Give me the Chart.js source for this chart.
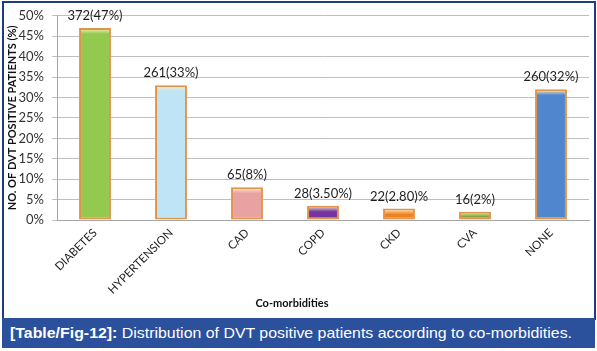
<!DOCTYPE html>
<html>
<head>
<meta charset="utf-8">
<script src="https://cdn.jsdelivr.net/npm/chart.js@4.4.1/dist/chart.umd.min.js"></script>
<style>
  html, body { margin: 0; padding: 0; background: #ffffff; }
  body { width: 597px; height: 351px; position: relative; overflow: hidden; }
  #wrap { position: absolute; left: 0; top: 0; width: 597px; height: 318px; }
  #frame { position: absolute; left: 2px; top: 1px; width: 590px; height: 315px;
           border: 2px solid #1f3d7c; pointer-events: none; }
  #caption { position: absolute; left: 2px; top: 318px; width: 593px; height: 30px;
             background: #2b509c; color: #ffffff; font-family: "Liberation Sans", Arial, sans-serif;
             font-size: 14.5px; line-height: 30px; white-space: nowrap; overflow: hidden; }
  #captext { display: inline-block; transform-origin: 0 50%; position: absolute; left: 8px; top: 0; }
  #captext b { font-weight: bold; }
</style>
</head>
<body>
<div id="wrap"><canvas id="c" width="597" height="318"></canvas></div>
<div id="frame"></div>
<div id="caption"><span id="captext"><b>[Table/Fig-12]:</b> Distribution of DVT positive patients according to co-morbidities.</span></div>
<script>
const categories = ["DIABETES", "HYPERTENSION", "CAD", "COPD", "CKD", "CVA", "NONE"];
const percentValues = [47, 33, 8, 3.5, 2.8, 2, 32];
const dataLabels = ["372(47%)", "261(33%)", "65(8%)", "28(3.50%)", "22(2.80)%", "16(2%)", "260(32%)"];
const yTickLabels = ["0%", "5%", "10%", "15%", "20%", "25%", "30%", "35%", "40%", "45%", "50%"];
const barColors = ["#92c94e", "#bfe4f6", "#e8a2a2", "#7435a3", "#f0801e", "#7aa53b", "#4f86cd"];
const yTitle = "NO. OF DVT POSITIVE PATIENTS (%)";
const xTitle = "Co-morbidities";

// caption fit
(function(){
  const t = document.getElementById('captext');
  const w = t.getBoundingClientRect().width;
  t.style.transform = 'scaleX(' + (562 / w) + ')';
})();

function barFill(ctx) {
  const chart = ctx.chart;
  const i = ctx.dataIndex;
  const base = barColors[i];
  if (!chart.scales || !chart.scales.y || i === undefined) return base;
  const y = chart.scales.y;
  const top = y.getPixelForValue(percentValues[i]);
  const bottom = y.getPixelForValue(0);
  if (!isFinite(top) || !isFinite(bottom) || bottom - top < 1) return base;
  const g = chart.ctx.createLinearGradient(0, top, 0, bottom);
  const h = Math.min(0.6, 6 / (bottom - top));
  g.addColorStop(0, '#fdf0c0');
  g.addColorStop(h, base);
  g.addColorStop(1, base);
  return g;
}

const labelPlugin = {
  id: 'labels',
  afterDatasetsDraw(chart) {
    const ctx = chart.ctx;
    const meta = chart.getDatasetMeta(0);
    ctx.save();
    ctx.font = '13px Lato, "Open Sans", sans-serif';
    ctx.fillStyle = '#1e1e1e';
    ctx.textAlign = 'center';
    ctx.textBaseline = 'alphabetic';
    meta.data.forEach((bar, i) => {
      ctx.fillText(dataLabels[i], bar.x, bar.y - 8);
    });
    ctx.font = 'bold 11px Lato, "Open Sans", sans-serif';
    ctx.fillStyle = '#111111';
    ctx.textBaseline = 'middle';
    ctx.fillText(xTitle, 292, 303);
    ctx.restore();
  }
};

new Chart(document.getElementById('c'), {
  type: 'bar',
  data: {
    labels: categories,
    datasets: [{
      data: percentValues,
      backgroundColor: barFill,
      borderColor: '#e2934a',
      borderWidth: 2,
      borderSkipped: false,
      barPercentage: 0.42,
      categoryPercentage: 1.0
    }]
  },
  options: {
    responsive: false,
    animation: false,
    devicePixelRatio: 1,
    layout: { padding: { left: 4, right: 8, top: 10, bottom: 0 } },
    plugins: { legend: { display: false }, tooltip: { enabled: false } },
    scales: {
      x: {
        offset: true,
        grid: { display: false, drawTicks: false },
        border: { display: true, color: '#a6a6a6', width: 1 },
        ticks: {
          autoSkip: false, minRotation: 45, maxRotation: 45, padding: 6,
          color: '#1e1e1e',
          font: { family: 'Lato, "Open Sans", sans-serif', size: 11.5 }
        },
        afterFit(scale) { scale.height = 98; }
      },
      y: {
        min: 0, max: 50,
        ticks: {
          stepSize: 5, padding: 8, color: '#333333',
          font: { family: 'Lato, "Open Sans", sans-serif', size: 13 },
          callback: (v, idx) => yTickLabels[idx]
        },
        grid: { color: '#bfbfbf', lineWidth: 1, tickLength: 5, drawTicks: true },
        border: { display: true, color: '#a6a6a6', width: 1 },
        title: {
          display: true, text: yTitle, color: '#111111', padding: { top: 2, bottom: 0 },
          font: { family: 'Lato, "Open Sans", sans-serif', size: 11, weight: 'bold' }
        },
        afterFit(scale) { scale.width = 53; }
      }
    }
  },
  plugins: [labelPlugin]
});
</script>
</body>
</html>
